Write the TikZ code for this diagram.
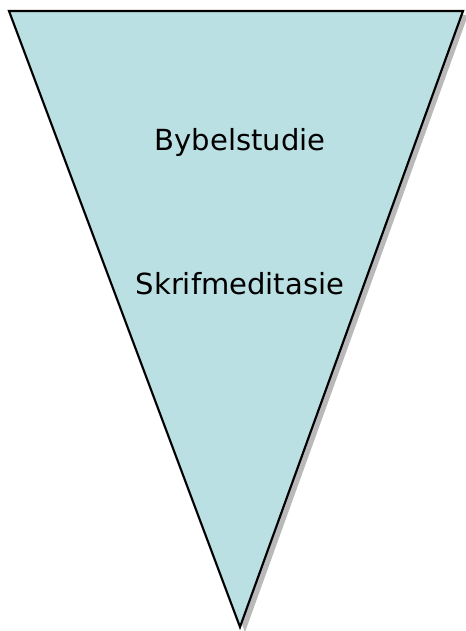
\documentclass[tikz,border=0pt]{standalone}
\usepackage{fontspec}
\setmainfont{DejaVu Sans}
\definecolor{funnelfill}{RGB}{187,224,227}
\definecolor{funnelshadow}{RGB}{185,185,185}
\begin{document}
\begin{tikzpicture}[x=0.75pt,y=0.75pt,yscale=-1,xscale=1]
    \useasboundingbox (0,0) rectangle (465,631);
    
    % Shadow
    \fill [funnelshadow] (13,15) -- (468,15) -- (245,632) -- cycle ;
    % Funnel
    \draw [fill=funnelfill, line width=1.6pt, line join=miter] (9,11) -- (463,11) -- (240,627) -- cycle ;
    % Text Node
    \draw (240,151) node [anchor=base, font=\fontsize{21.8}{26}\selectfont] (study) {Bybelstudie};
    % Text Node
    \draw (240,294) node [anchor=base, font=\fontsize{21.8}{26}\selectfont] (meditation) {Skrifmeditasie};
    
\end{tikzpicture}
\end{document}
